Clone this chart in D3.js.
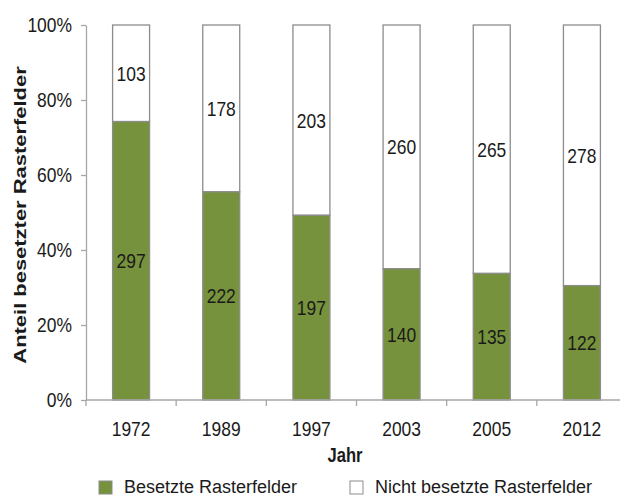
<!DOCTYPE html>
<html>
<head>
<meta charset="utf-8">
<script src="https://cdn.jsdelivr.net/npm/d3@7/dist/d3.min.js"></script>
<style>
  html, body { margin: 0; padding: 0; background: #fff; }
  svg { display: block; font-family: "Liberation Sans", Arial, sans-serif; }
</style>
</head>
<body>
<svg id="chart" width="620" height="497"></svg>
<script>
// ---- data ----
const years = ["1972", "1989", "1997", "2003", "2005", "2012"];
const besetzt = [297, 222, 197, 140, 135, 122];
const nichtBesetzt = [103, 178, 203, 260, 265, 278];
const yTicks = [0, 0.2, 0.4, 0.6, 0.8, 1.0];
const seriesNames = ["Besetzte Rasterfelder", "Nicht besetzte Rasterfelder"];
const yTitle = "Anteil besetzter Rasterfelder";
const xTitle = "Jahr";

const green = "#76923c";
const barStroke = "#8c8c8c";
const axisColor = "#a6a6a6";
const textColor = "#1a1a1a";

const svg = d3.select("#chart");

function condense(sel, k) {
  sel.each(function () {
    const L = this.getComputedTextLength();
    d3.select(this).attr("textLength", L * k).attr("lengthAdjust", "spacingAndGlyphs");
  });
}

const x = d3.scaleBand().domain(years).range([86, 627]).paddingInner(0.59).paddingOuter(0.295);
const y = d3.scaleLinear().domain([0, 1]).range([400, 25]);

const rows = years.map((yr, i) => {
  const tot = besetzt[i] + nichtBesetzt[i];
  return { year: yr, b: besetzt[i], n: nichtBesetzt[i], pb: besetzt[i] / tot };
});

// bars
const g = svg.append("g");
g.selectAll("rect.n").data(rows).join("rect")
  .attr("x", d => x(d.year)).attr("width", x.bandwidth())
  .attr("y", y(1)).attr("height", d => y(d.pb) - y(1))
  .attr("fill", "#fff").attr("stroke", barStroke).attr("stroke-width", 1.3);
g.selectAll("rect.b").data(rows).join("rect")
  .attr("x", d => x(d.year)).attr("width", x.bandwidth())
  .attr("y", d => y(d.pb)).attr("height", d => y(0) - y(d.pb))
  .attr("fill", green).attr("stroke", barStroke).attr("stroke-width", 1.3);

// value labels
const labN = g.selectAll("text.n").data(rows).join("text")
  .attr("x", d => x(d.year) + x.bandwidth() / 2)
  .attr("y", d => (y(1) + y(d.pb)) / 2)
  .attr("dy", "0.35em").attr("text-anchor", "middle")
  .attr("font-size", 21).attr("fill", textColor)
  .text(d => d.n);
const labB = g.selectAll("text.b").data(rows).join("text")
  .attr("x", d => x(d.year) + x.bandwidth() / 2)
  .attr("y", d => (y(d.pb) + y(0)) / 2)
  .attr("dy", "0.35em").attr("text-anchor", "middle")
  .attr("font-size", 21).attr("fill", textColor)
  .text(d => d.b);
condense(labN, 0.83);
condense(labB, 0.83);

// y axis
const yAxis = svg.append("g").attr("transform", "translate(86,0)")
  .call(d3.axisLeft(y).tickValues(yTicks).tickFormat(d3.format(".0%")).tickSize(5).tickPadding(9).tickSizeOuter(0));
yAxis.select(".domain").attr("stroke", axisColor).attr("stroke-width", 1.3);
yAxis.selectAll(".tick line").attr("stroke", axisColor).attr("stroke-width", 1.3);
yAxis.selectAll(".tick text").attr("font-size", 21).attr("fill", textColor)
  .attr("font-family", "Liberation Sans, Arial, sans-serif");
condense(yAxis.selectAll(".tick text"), 0.83);

// x axis
const step = x.step();
const xAxisG = svg.append("g");
xAxisG.append("line").attr("x1", x.range()[0]).attr("x2", x.range()[1])
  .attr("y1", y(0)).attr("y2", y(0)).attr("stroke", axisColor).attr("stroke-width", 1.3);
const bounds = years.map(d => x(d) + x.bandwidth() / 2 - step / 2).concat([x(years[years.length - 1]) + x.bandwidth() / 2 + step / 2]);
xAxisG.selectAll("line.t").data(bounds).join("line")
  .attr("x1", d => d).attr("x2", d => d).attr("y1", y(0)).attr("y2", y(0) + 6)
  .attr("stroke", axisColor).attr("stroke-width", 1.3);
const xl = xAxisG.selectAll("text.yr").data(years).join("text")
  .attr("x", d => x(d) + x.bandwidth() / 2).attr("y", 436)
  .attr("text-anchor", "middle").attr("font-size", 21).attr("fill", textColor)
  .text(d => d);
condense(xl, 0.83);

// axis titles
const xt = svg.append("text").attr("x", 345).attr("y", 462).attr("text-anchor", "middle")
  .attr("font-size", 20).attr("font-weight", "bold").attr("fill", textColor).text(xTitle);
condense(xt, 0.83);
const yt = svg.append("text").attr("transform", "translate(26,215) rotate(-90)")
  .attr("text-anchor", "middle").attr("font-size", 17).attr("font-weight", "bold")
  .attr("fill", textColor).text(yTitle);
condense(yt, 1.29);

// legend
const legend = svg.append("g");
const legX = [99, 350];
const legFill = [green, "#fff"];
seriesNames.forEach((name, i) => {
  legend.append("rect").attr("x", legX[i]).attr("y", 481).attr("width", 13).attr("height", 13)
    .attr("fill", legFill[i]).attr("stroke", barStroke).attr("stroke-width", 1);
  legend.append("text").attr("x", legX[i] + 25).attr("y", 493)
    .attr("font-size", 18).attr("fill", textColor).text(name);
});
</script>
</body>
</html>
